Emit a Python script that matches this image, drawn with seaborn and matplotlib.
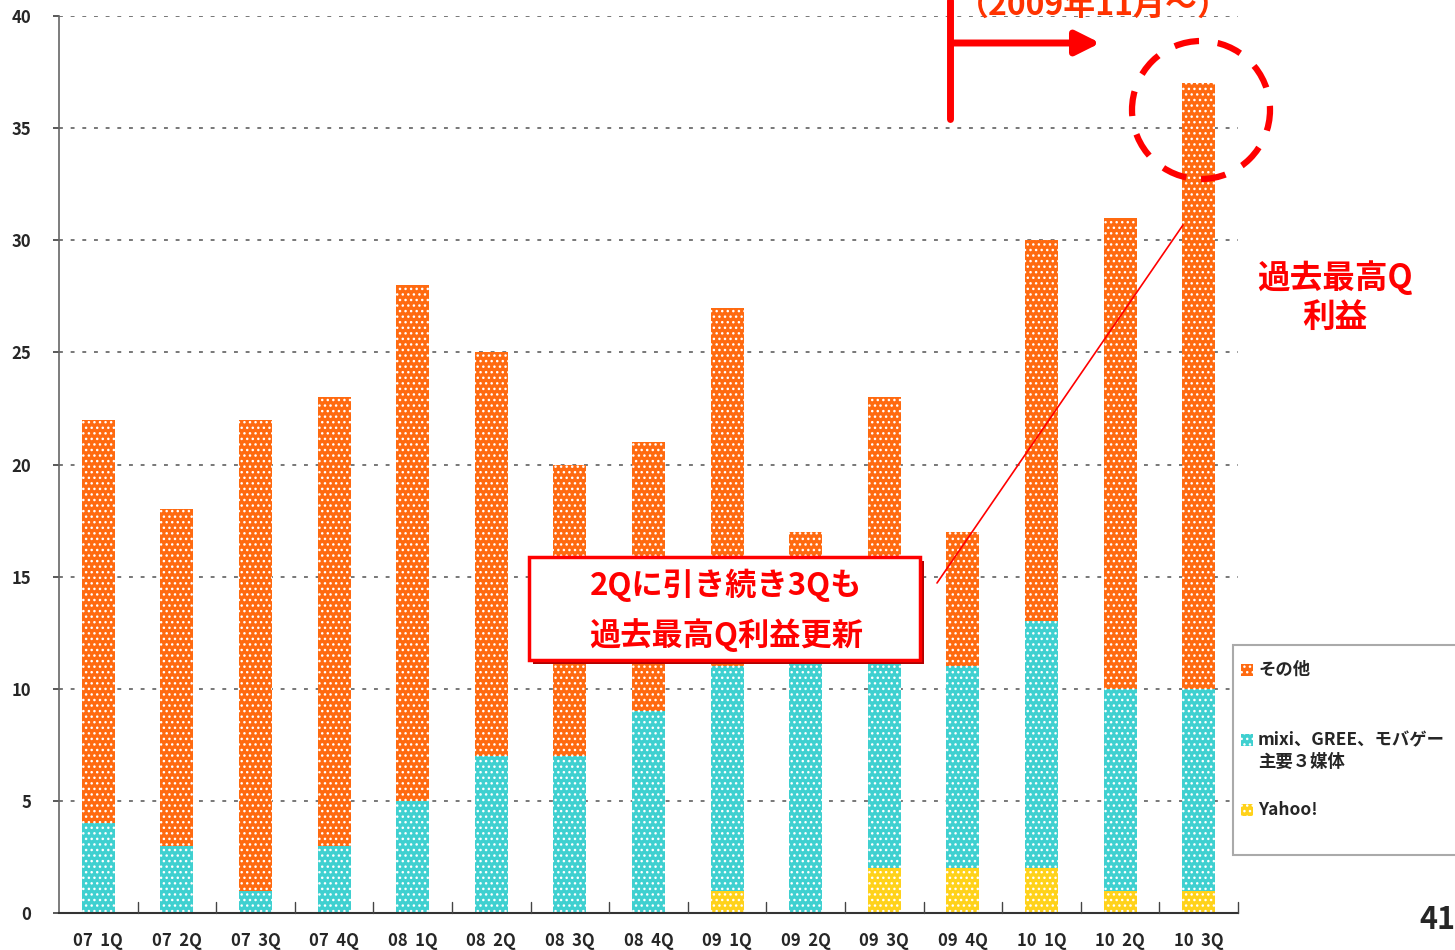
import matplotlib
matplotlib.use("Agg")
import matplotlib.pyplot as plt
import seaborn as sns
import pandas as pd
import numpy as np
from matplotlib.patches import Ellipse, Rectangle

categories = ["07  1Q", "07  2Q", "07  3Q", "07  4Q", "08  1Q", "08  2Q", "08  3Q", "08  4Q",
              "09  1Q", "09  2Q", "09  3Q", "09  4Q", "10  1Q", "10  2Q", "10  3Q"]
yahoo = [0, 0, 0, 0, 0, 0, 0, 0, 1, 0, 2, 2, 2, 1, 1]
mixi = [4, 3, 1, 3, 5, 7, 7, 9, 10, 12, 10, 9, 11, 9, 9]
total = [22, 18, 22, 23, 28, 25, 20, 21, 27, 17, 23, 17, 30, 31, 37]
other = [t - m - y for t, m, y in zip(total, mixi, yahoo)]
series_names = ["その他", "mixi、GREE、モバゲー\n主要３媒体", "Yahoo!"]
yticks = [0, 5, 10, 15, 20, 25, 30, 35, 40]

sns.set_theme(style="white")
plt.rcParams['font.family'] = ['Noto Sans CJK JP', 'DejaVu Sans']
plt.rcParams['hatch.color'] = 'white'
plt.rcParams['hatch.linewidth'] = 1.0

c_orange = "#FF6A10"
c_cyan = "#3FD0D0"
c_yellow = "#FFD21A"

fig = plt.figure(figsize=(14.55, 9.5), dpi=100)
ax = fig.add_axes([59/1455, 37/950, (1238-59)/1455, (913-16)/950])

df = pd.DataFrame({"cat": categories,
                   "top": total,
                   "mid": [m + y for m, y in zip(mixi, yahoo)],
                   "bot": yahoo})

for col, colr in [("top", c_orange), ("mid", c_cyan), ("bot", c_yellow)]:
    sns.barplot(data=df, x="cat", y=col, color=colr, width=0.42, ax=ax,
                saturation=1, linewidth=0, hatch="...", edgecolor="white")

ax.set_xlim(-0.5, len(categories) - 0.5)
ax.set_ylim(0, 40)
ax.set_yticks(yticks)
ax.set_yticklabels([str(v) for v in yticks], fontsize=12, fontweight="bold")
ax.set_xlabel("")
ax.set_ylabel("")
ax.set_xticks(range(len(categories)))
ax.set_xticklabels(categories, fontsize=12, fontweight="bold")
ax.tick_params(axis="x", length=0, pad=14)
ax.tick_params(axis="y", length=4, left=True, pad=16, color="#444444")
for b in np.arange(0.5, len(categories) - 0.5, 1.0):
    ax.plot([b, b], [0, 0.5], color="#444444", lw=1, clip_on=False, zorder=5)
ax.plot([len(categories) - 0.5] * 2, [0, 0.5], color="#444444", lw=1, clip_on=False, zorder=5)

for v in yticks[1:]:
    ax.axhline(v, color="#777777", lw=1.4, ls=(0, (2, 4)), zorder=0)
for s in ["top", "right"]:
    ax.spines[s].set_visible(False)
ax.spines["left"].set_color("#666666")
ax.spines["bottom"].set_color("#333333")
ax.spines["left"].set_linewidth(1.2)
ax.spines["bottom"].set_linewidth(1.5)

def fx(px):
    return px / 1455
def fy(py):
    return 1 - py / 950

# legend box
fig.patches.append(Rectangle((fx(1233), fy(855)), fx(1460) - fx(1233), fy(645) - fy(855),
                             transform=fig.transFigure, facecolor="white",
                             edgecolor="#AAAAAA", lw=1.5, zorder=10))
legend_items = [(c_orange, series_names[0], 670), (c_cyan, series_names[1], 751), (c_yellow, series_names[2], 810)]
for colr, name, yy in legend_items:
    ytop = 740 if "\n" in name else yy
    fig.patches.append(Rectangle((fx(1241), fy(ytop + 6)), fx(12), 12/950,
                                 transform=fig.transFigure, facecolor=colr, hatch="...",
                                 edgecolor="white", lw=0, zorder=11))
    fig.text(fx(1258), fy(yy), name, fontsize=12.5, fontweight="bold", va="center",
             ha="left", zorder=12, linespacing=1.3)

# annotations
red = "#FF0000"
fig.text(fx(1093), fy(6), "（2009年11月～）", color="#FF3300", fontsize=23, fontweight="bold",
         ha="center", va="center")
fig.add_artist(plt.Line2D([fx(950), fx(950)], [fy(0), fy(119)], color=red, lw=5))
ax.annotate("", xy=(fx(1103), fy(43)), xytext=(fx(950), fy(43)), xycoords="figure fraction",
            textcoords="figure fraction",
            arrowprops=dict(arrowstyle="-|>,head_length=1.2,head_width=0.6", color=red, lw=5))
fig.add_artist(Ellipse((fx(1201), fy(110)), 138/1455, 138/950, transform=fig.transFigure,
                       fill=False, edgecolor=red, lw=4.5, ls=(0, (4, 3)), zorder=15))
fig.add_artist(plt.Line2D([fx(937), fx(1183)], [fy(583), fy(225)], color=red, lw=1.2, zorder=15))

fig.text(fx(1335), fy(278), "過去最高Q", color=red, fontsize=23.5, fontweight="bold",
         ha="center", va="center")
fig.text(fx(1335), fy(317), "利益", color=red, fontsize=23.5, fontweight="bold",
         ha="center", va="center")

# box with shadow
fig.patches.append(Rectangle((fx(533), fy(664)), fx(391), 103/950, transform=fig.transFigure,
                             facecolor="#B00000", edgecolor="none", zorder=16))
fig.patches.append(Rectangle((fx(529), fy(660)), fx(391), 103/950, transform=fig.transFigure,
                             facecolor="white", edgecolor=red, lw=2.5, zorder=17))
fig.text(fx(726), fy(585), "2Qに引き続き3Qも", color=red, fontsize=22.5, fontweight="bold",
         ha="center", va="center", zorder=18)
fig.text(fx(726), fy(635), "過去最高Q利益更新", color=red, fontsize=22.5, fontweight="bold",
         ha="center", va="center", zorder=18)

fig.text(fx(1437), fy(920), "41", fontsize=22, fontweight="bold", ha="center", va="center")

fig.savefig("out.png", dpi=100)
